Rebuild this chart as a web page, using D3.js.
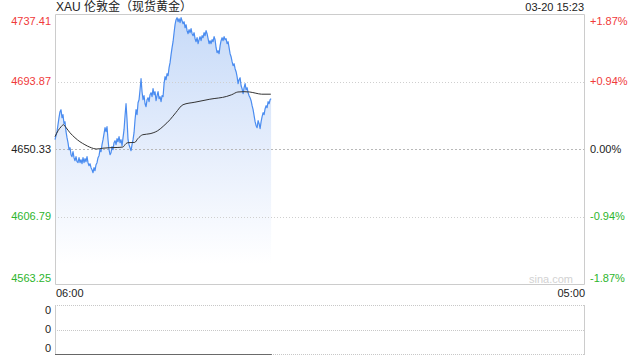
<!DOCTYPE html>
<html>
<head>
<meta charset="utf-8">
<script src="https://cdn.jsdelivr.net/npm/d3@7/dist/d3.min.js"></script>
<style>
  html, body { margin: 0; padding: 0; background: #fff; }
  svg { display: block; font-family: "Liberation Sans", Arial, sans-serif; }
</style>
</head>
<body>
<svg id="chart" width="640" height="360"></svg>
<script>
// ---- data ----
const title = "XAU 伦敦金（现货黄金）";
const stamp = "03-20 15:23";
const startTime = "06:00";
const endTime = "05:00";
const sessionMinutes = 1380;      // 06:00 -> 05:00 next day
const stepMinutes = 2.61;         // sampling interval of the price series
const prices = [
  4656.33, 4658.91, 4661.49, 4666.01, 4670.52, 4674.39, 4675.68, 4670.52, 4672.46, 4666.65,
  4667.94, 4661.49, 4657.62, 4654.40, 4649.88, 4651.17, 4646.66, 4645.37, 4648.59, 4644.72,
  4642.79, 4645.37, 4642.14, 4641.50, 4644.72, 4641.50, 4643.43, 4640.85, 4644.72, 4641.50,
  4644.08, 4642.14, 4645.37, 4641.50, 4639.56, 4640.85, 4638.27, 4636.98, 4635.05, 4638.27,
  4636.34, 4640.21, 4641.50, 4644.72, 4646.01, 4649.88, 4648.59, 4653.11, 4656.33, 4660.20,
  4664.07, 4661.49, 4664.72, 4656.33, 4649.88, 4646.66, 4647.95, 4651.82, 4649.88, 4654.40,
  4655.69, 4653.11, 4656.98, 4655.04, 4658.27, 4654.40, 4656.33, 4652.46, 4657.62, 4662.78,
  4671.81, 4679.55, 4669.23, 4656.33, 4653.11, 4651.17, 4649.24, 4653.11, 4656.33, 4660.85,
  4669.23, 4675.68, 4672.46, 4680.20, 4682.13, 4688.58, 4695.68, 4687.29, 4682.13, 4684.71,
  4679.55, 4677.62, 4682.13, 4683.42, 4680.84, 4685.36, 4686.65, 4684.07, 4689.23, 4685.36,
  4687.29, 4681.49, 4684.71, 4687.29, 4682.78, 4684.07, 4680.84, 4684.71, 4684.07, 4692.45,
  4696.97, 4695.03, 4698.90, 4697.61, 4702.77, 4706.00, 4711.16, 4715.67, 4719.54, 4725.35,
  4730.51, 4733.73, 4735.02, 4732.44, 4734.38, 4731.80, 4735.02, 4733.09, 4731.15, 4732.44,
  4728.57, 4730.51, 4726.64, 4724.70, 4727.28, 4725.35, 4727.93, 4724.70, 4723.41, 4725.35,
  4721.48, 4719.54, 4722.12, 4718.25, 4720.83, 4722.77, 4720.19, 4723.41, 4722.12, 4725.35,
  4723.41, 4726.64, 4724.70, 4721.48, 4718.25, 4720.19, 4718.25, 4720.83, 4719.54, 4722.77,
  4720.83, 4715.67, 4712.45, 4713.74, 4711.80, 4716.96, 4720.19, 4722.12, 4720.19, 4722.77,
  4720.83, 4721.48, 4718.25, 4719.54, 4715.67, 4711.80, 4709.87, 4706.64, 4704.06, 4705.35,
  4702.13, 4700.19, 4696.97, 4692.45, 4695.03, 4696.32, 4691.16, 4689.23, 4686.00, 4689.87,
  4692.45, 4688.58, 4689.87, 4686.65, 4684.71, 4683.42, 4681.49, 4678.26, 4675.68, 4671.81,
  4667.94, 4665.36, 4664.07, 4668.59, 4666.65, 4663.43, 4667.94, 4671.17, 4673.75, 4672.46,
  4676.33, 4678.26, 4676.97, 4680.84, 4679.55, 4682.13, 4682.78
];
const avgTimes = ["06:00","06:08","06:16","06:22","06:29","06:39","06:52","07:05","07:18","07:31",
  "07:49","08:05","08:23","08:42","08:57","09:05","09:10","09:28","09:36","09:49",
  "10:08","10:28","10:44","11:00","11:15","11:34","12:05","12:44","13:28","13:41",
  "13:57","14:13","14:28","14:44","14:59","15:23"];
const avgValues = [4658.26, 4662.13, 4664.71, 4666.00, 4664.07, 4660.84, 4657.62, 4655.04, 4653.10, 4651.49,
  4650.33, 4650.85, 4651.17, 4651.30, 4651.62, 4653.75, 4654.40, 4654.59, 4656.97, 4659.55,
  4660.20, 4662.13, 4665.36, 4669.23, 4673.74, 4678.90, 4680.52, 4682.45, 4684.26, 4685.35,
  4687.10, 4687.30, 4687.10, 4686.32, 4685.68, 4685.68];
const priceTicks = [4737.41, 4693.87, 4650.33, 4606.79, 4563.25];
const pctTicks = ["+1.87%", "+0.94%", "0.00%", "-0.94%", "-1.87%"];
const prevClose = 4650.33;
const volLabels = ["0", "0", "0"];
const volumes = prices.map(() => 0);

// ---- layout ----
const L = 55, R = 584, T = 14, B = 284;
const VT = 305, VB = 354;
const RED = "#f03a3a", GREEN = "#2db52d", TXT = "#222";

const svg = d3.select("#chart");
const toMin = s => { const [h, m] = s.split(":").map(Number); let v = (h * 60 + m) - 360; if (v < 0) v += 1440; return v; };

const x = d3.scaleLinear().domain([0, sessionMinutes]).range([L, R]);
const y = d3.scaleLinear().domain([priceTicks[4], priceTicks[0]]).range([B, T]);
const vy = d3.scaleLinear().domain([0, 1]).range([VB, VT]);

const series = prices.map((p, i) => ({ t: i * stepMinutes, p }));
const avg = avgTimes.map((t, i) => ({ t: toMin(t), p: avgValues[i] }));

const colorFor = v => v > prevClose ? RED : (v < prevClose ? GREEN : TXT);

// gradient
const defs = svg.append("defs");
const grad = defs.append("linearGradient").attr("id", "fillGrad")
  .attr("gradientUnits", "userSpaceOnUse").attr("x1", 0).attr("x2", 0).attr("y1", T).attr("y2", B - 20);
grad.append("stop").attr("offset", "0%").attr("stop-color", "#c6daf8");
grad.append("stop").attr("offset", "55%").attr("stop-color", "#e6eefc");
grad.append("stop").attr("offset", "100%").attr("stop-color", "#ffffff");

// area
svg.append("path").datum(series)
  .attr("d", d3.area().x(d => x(d.t)).y0(B).y1(d => y(d.p)))
  .attr("fill", "url(#fillGrad)");

// grid lines
priceTicks.forEach((v, i) => {
  if (i === 0 || i === priceTicks.length - 1) return;
  svg.append("line").attr("x1", L).attr("x2", R).attr("y1", Math.round(y(v)) + 0.5).attr("y2", Math.round(y(v)) + 0.5)
    .attr("stroke", v === prevClose ? "#b8b8b8" : "#cfcfcf")
    .attr("stroke-dasharray", v === prevClose ? "2,2" : "1,2");
});

// frame
svg.append("path").attr("d", `M${L + 0.5},${B + 0.5}V${T + 0.5}H${R + 0.5}V${B + 0.5}H${L + 0.5}`)
  .attr("fill", "none").attr("stroke", "#cccccc");

// price line
svg.append("path").datum(series)
  .attr("d", d3.line().x(d => x(d.t)).y(d => y(d.p)))
  .attr("fill", "none").attr("stroke", "#4a8cf0").attr("stroke-width", 1.2).attr("stroke-linejoin", "round");

// avg line
svg.append("path").datum(avg)
  .attr("d", d3.line().x(d => x(d.t)).y(d => y(d.p)).curve(d3.curveMonotoneX))
  .attr("fill", "none").attr("stroke", "#333").attr("stroke-width", 1);

// left / right labels
priceTicks.forEach((v, i) => {
  const yy = Math.max(T + 7, Math.min(B - 6, y(v)));
  svg.append("text").attr("x", 51).attr("y", yy).attr("dy", "0.35em")
    .attr("text-anchor", "end").attr("font-size", 11).attr("fill", colorFor(v)).text(v.toFixed(2));
  svg.append("text").attr("x", 590).attr("y", yy).attr("dy", "0.35em")
    .attr("text-anchor", "start").attr("font-size", 11).attr("fill", colorFor(v)).text(pctTicks[i]);
});

// title & stamp
svg.append("text").attr("x", 56).attr("y", 11).attr("font-size", 12).attr("fill", TXT)
  .attr("font-family", "'Liberation Sans', 'Noto Sans CJK SC', sans-serif").text(title);
svg.append("text").attr("x", 584).attr("y", 11).attr("text-anchor", "end").attr("font-size", 11).attr("fill", TXT).text(stamp);

// watermark
svg.append("text").attr("x", 573).attr("y", 279).attr("dy", "0.35em").attr("text-anchor", "end")
  .attr("font-size", 11).attr("fill", "#d2d2d2").text("sina.com");

// time labels
svg.append("text").attr("x", x(0) + 1).attr("y", 293).attr("dy", "0.35em").attr("font-size", 11).attr("fill", TXT).text(startTime);
svg.append("text").attr("x", x(sessionMinutes) + 1).attr("y", 293).attr("dy", "0.35em").attr("text-anchor", "end").attr("font-size", 11).attr("fill", TXT).text(endTime);

// volume panel
[VT, (VT + VB) / 2, VB].forEach(yy => {
  svg.append("line").attr("x1", L).attr("x2", R).attr("y1", Math.round(yy) + 0.5).attr("y2", Math.round(yy) + 0.5)
    .attr("stroke", "#c8c8c8").attr("stroke-dasharray", "1,1");
});
svg.append("line").attr("x1", L + 0.5).attr("x2", L + 0.5).attr("y1", VT).attr("y2", VB + 1).attr("stroke", "#cccccc");
svg.append("line").attr("x1", R + 0.5).attr("x2", R + 0.5).attr("y1", VT).attr("y2", VB + 1).attr("stroke", "#cccccc");
svg.append("g").selectAll("line").data(series).join("line")
  .attr("x1", d => x(d.t)).attr("x2", (d, i) => x(series[Math.min(i + 1, series.length - 1)].t) + 0.5)
  .attr("y1", (d, i) => vy(volumes[i]) + 0.5).attr("y2", (d, i) => vy(volumes[i]) + 0.5)
  .attr("stroke", "#666").attr("stroke-width", 1);
[VT + 5, (VT + VB) / 2, VB - 6].forEach((yy, i) => {
  svg.append("text").attr("x", 51).attr("y", yy).attr("dy", "0.35em").attr("text-anchor", "end")
    .attr("font-size", 11).attr("fill", TXT).text(volLabels[i]);
});
</script>
</body>
</html>
